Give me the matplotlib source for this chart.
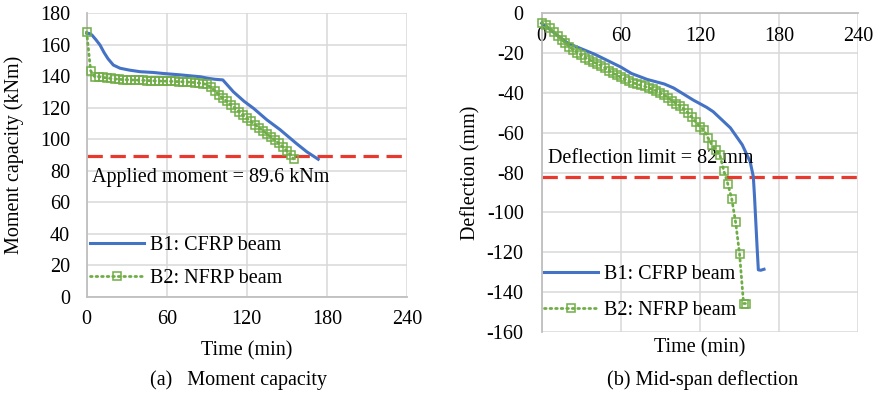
import numpy as np
import matplotlib
matplotlib.use("Agg")
import matplotlib.pyplot as plt

plt.rcParams["font.family"] = ["Liberation Serif", "DejaVu Serif"]
plt.rcParams["font.size"] = 14.5
plt.rcParams["axes.unicode_minus"] = False

# ---- data ----
# B1 (CFRP) moment capacity
t_b1_m = [0, 2, 4, 7, 10, 13, 16, 20, 25, 32, 40, 50, 57, 70, 85, 91, 96, 102, 110, 118, 125, 135, 145, 157, 165, 173.5]
m_b1 = [167.3, 167.0, 166.0, 163.0, 159.7, 155.0, 151.0, 147.0, 145.0, 143.8, 142.8, 142.3, 141.7, 140.8, 139.6, 138.6, 138.0, 137.6, 130.0, 124.0, 119.6, 112.3, 106.0, 97.4, 92.0, 87.3]

# B2 (NFRP) time steps, shared by both panels
t_b2 = [0, 3, 6, 9, 12, 15, 18, 21, 24, 27, 30, 33, 36, 39, 42, 45, 48, 51, 54, 57,
        60, 63, 66, 69, 72, 75, 78, 81, 84, 87, 90, 93, 96, 99, 102, 105, 108, 111, 114, 117,
        120, 123, 126, 129, 132, 135, 138, 141, 144, 147, 150, 153, 155]
m_b2 = [168.0, 143.4, 139.6, 139.6, 139.2, 138.8, 138.5, 138.2, 138.0, 137.8, 137.7, 137.6, 137.5, 137.4, 137.3, 137.2, 137.1, 137.0, 136.9, 136.8,
        136.8, 136.7, 136.6, 136.5, 136.4, 136.3, 136.1, 135.9, 135.6, 135.3, 134.7, 133.0, 130.8, 128.2, 126.0, 124.0, 121.8, 119.8, 117.5, 115.3,
        113.2, 111.3, 109.3, 107.3, 105.5, 103.5, 101.4, 99.5, 97.4, 95.2, 92.6, 90.0, 87.5]

# B1 (CFRP) deflection
t_b1_d = [0, 5, 10, 20, 40, 60, 68, 80, 93, 100, 115, 125, 130, 143, 152, 158, 160.4, 161.3, 162.3, 163.3, 164.2, 166, 168.5]
d_b1 = [-5.0, -7.5, -10.1, -15.1, -20.5, -27.0, -30.2, -33.2, -35.5, -37.5, -43.6, -47.2, -49.4, -57.5, -66.0, -74.5, -82.0, -92.0, -105.0, -118.0, -128.8, -129.0, -128.5]

# B2 (NFRP) deflection
d_b2 = [-4.7, -6.0, -7.5, -9.3, -11.3, -13.2, -15.0, -16.8, -18.4, -19.7, -21.0, -22.3, -23.3, -24.3, -25.3, -26.3, -27.5, -28.8, -30.0, -31.1,
        -32.1, -33.1, -34.0, -34.8, -35.5, -36.1, -36.7, -37.4, -38.2, -39.0, -40.0, -41.2, -42.5, -44.0, -45.3, -46.6, -48.2, -50.0, -52.3, -54.8,
        -57.0, -58.6, -62.5, -66.0, -68.5, -71.0, -79.0, -85.5, -93.0, -105.0, -121.0, -145.7, -145.7]

applied_moment = 89.6
deflection_limit = -82

blue = "#4472C4"
green = "#70AD47"
red = "#E8392E"
grid_c = "#D9D9D9"
axis_c = "#BFBFBF"


def style_axes(ax):
    ax.grid(True, color=grid_c, linewidth=1.1)
    ax.set_axisbelow(True)
    ax.spines["top"].set_visible(False)
    ax.spines["right"].set_visible(False)
    for s in ("left", "bottom"):
        ax.spines[s].set_color(axis_c)
        ax.spines[s].set_linewidth(1.3)
    ax.tick_params(length=0)


def draw_series(ax, t1, y1, t2, y2):
    ax.plot(t1, y1, color=blue, linewidth=2.2, label="B1: CFRP beam", clip_on=False, zorder=3)
    ax.plot(t2, y2, color=green, linewidth=2.0, linestyle=(0, (0.6, 1.4)), dash_capstyle="round",
            marker="s", markersize=5.5, markerfacecolor="none", markeredgecolor=green, markeredgewidth=1.1,
            label="B2: NFRP beam", clip_on=False, zorder=4)


fig = plt.figure(figsize=(8.78, 3.95), dpi=100)

# ---- (a) moment capacity ----
ax1 = fig.add_axes([0.0987, 0.2481, 0.3648, 0.719])
style_axes(ax1)
draw_series(ax1, t_b1_m, m_b1, t_b2, m_b2)
ax1.axhline(applied_moment, color=red, linewidth=2.3, dashes=(4.8, 2.4), zorder=2)
ax1.text(4, 76, "Applied moment = 89.6 kNm", va="center", ha="left")
ax1.set_xlim(0, 240)
ax1.set_ylim(0, 180)
ax1.set_xticks(np.arange(0, 241, 60))
ax1.set_yticks(np.arange(0, 181, 20))
ax1.tick_params(axis="y", pad=12)
ax1.tick_params(axis="x", pad=9)
ax1.set_xlabel("Time (min)")
ax1.xaxis.set_label_coords(0.5, -0.155)
ax1.set_ylabel("Moment capacity (kNm)")
ax1.yaxis.set_label_coords(-0.196, 0.5)
ax1.legend(loc="center left", bbox_to_anchor=(0.01, 0.123), frameon=False, borderpad=0, borderaxespad=0,
           handlelength=2.7, handletextpad=0.3, labelspacing=0.72)

# ---- (b) mid-span deflection ----
ax2 = fig.add_axes([0.617, 0.1595, 0.3606, 0.8068])
style_axes(ax2)
draw_series(ax2, t_b1_d, d_b1, t_b2, d_b2)
ax2.axhline(deflection_limit, color=red, linewidth=2.3, dashes=(4.8, 2.4), zorder=2)
ax2.text(5, -73, "Deflection limit = 82 mm", va="center", ha="left")
ax2.set_xlim(0, 240)
ax2.set_ylim(-160, 0)
ax2.set_xticks(np.arange(0, 241, 60))
ax2.set_yticks(np.arange(-160, 1, 20))
ax2.spines["bottom"].set_position(("data", 0))
ax2.tick_params(axis="y", pad=13)
ax2.tick_params(axis="x", pad=10)
ax2.set_xlabel("Time (min)")
ax2.xaxis.set_label_coords(0.5, -0.02)
ax2.set_ylabel("Deflection (mm)")
ax2.yaxis.set_label_coords(-0.195, 0.5)
ax2.legend(loc="center left", bbox_to_anchor=(0.007, 0.123), frameon=False, borderpad=0, borderaxespad=0,
           handlelength=2.7, handletextpad=0.3, labelspacing=0.85)

fig.text(0.272, 0.038, "(a)   Moment capacity", ha="center", va="center")
fig.text(0.8007, 0.038, "(b) Mid-span deflection", ha="center", va="center")

fig.savefig("out.png", dpi=100)
